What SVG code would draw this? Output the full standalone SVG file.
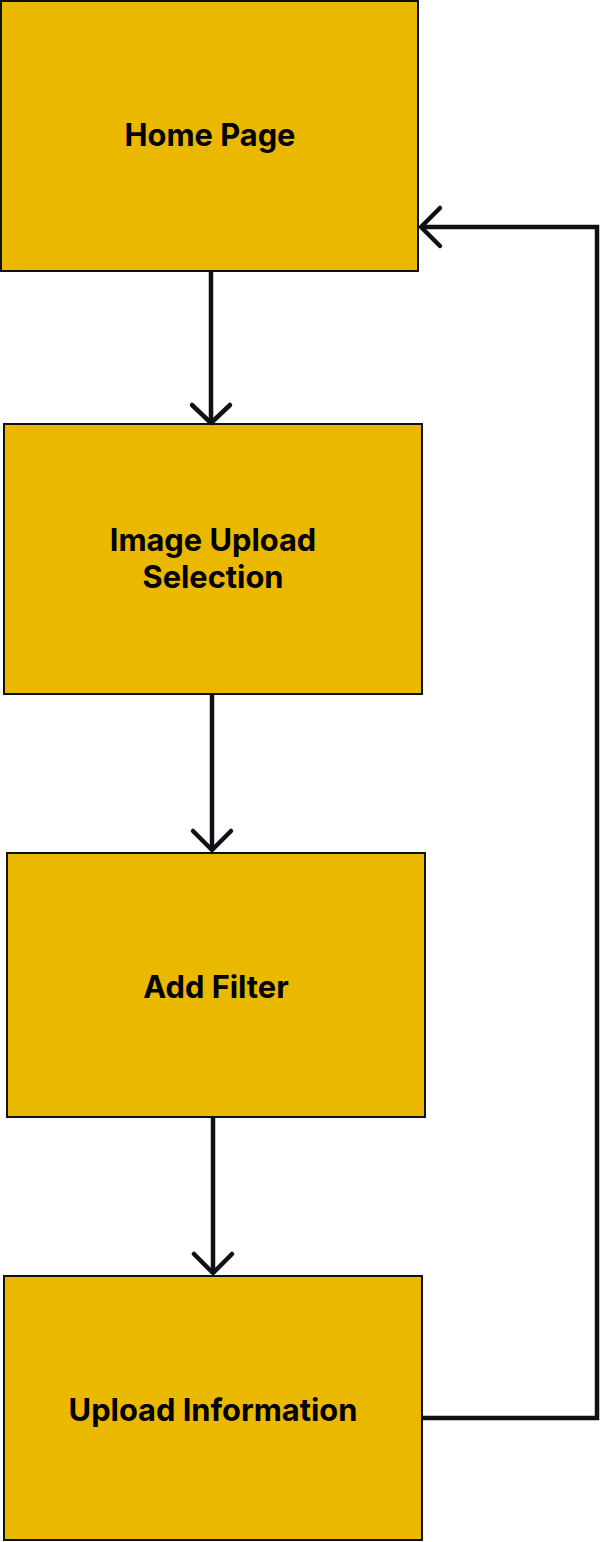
<svg xmlns="http://www.w3.org/2000/svg" width="601" height="1542" viewBox="0 0 601 1542">
<style>
.box{fill:#EBB800;stroke:#0f1114;stroke-width:2}
.lbl{font-family:Inter,"Noto Sans","Liberation Sans",sans-serif;font-weight:700;font-size:30.8px;fill:#000000;text-anchor:middle}
.edge{fill:none;stroke:#0f1114;stroke-width:4.5;stroke-linecap:butt;stroke-linejoin:miter}
.head{fill:none;stroke:#0f1114;stroke-width:4.5;stroke-linecap:round;stroke-linejoin:round}
</style>
<rect width="601" height="1542" fill="#ffffff"/>
<g id="home"><rect class="box" x="1" y="1" width="417" height="270"/><text class="lbl" x="210" y="146">Home Page</text></g>
<g id="image-upload"><rect class="box" x="4" y="424" width="418" height="270"/><text class="lbl" x="213" y="551">Image Upload</text><text class="lbl" x="213" y="588">Selection</text></g>
<g id="add-filter"><rect class="box" x="7" y="853" width="418" height="264"/><text class="lbl" x="216" y="998">Add Filter</text></g>
<g id="upload-info"><rect class="box" x="4" y="1276" width="418" height="264"/><text class="lbl" x="213" y="1421">Upload Information</text></g>
<g id="connectors">
<path class="edge" d="M211 271V422"/><path class="head" d="M192 405L211 423L230 405"/>
<path class="edge" d="M212 694V851"/><path class="head" d="M193 831L212 850L231 831"/>
<path class="edge" d="M213 1117V1274"/><path class="head" d="M194 1254L213 1273L232 1254"/>
<path class="edge" d="M422 1418H597V227H421"/><path class="head" d="M440 208L421 227L440 246"/>
</g>
</svg>
